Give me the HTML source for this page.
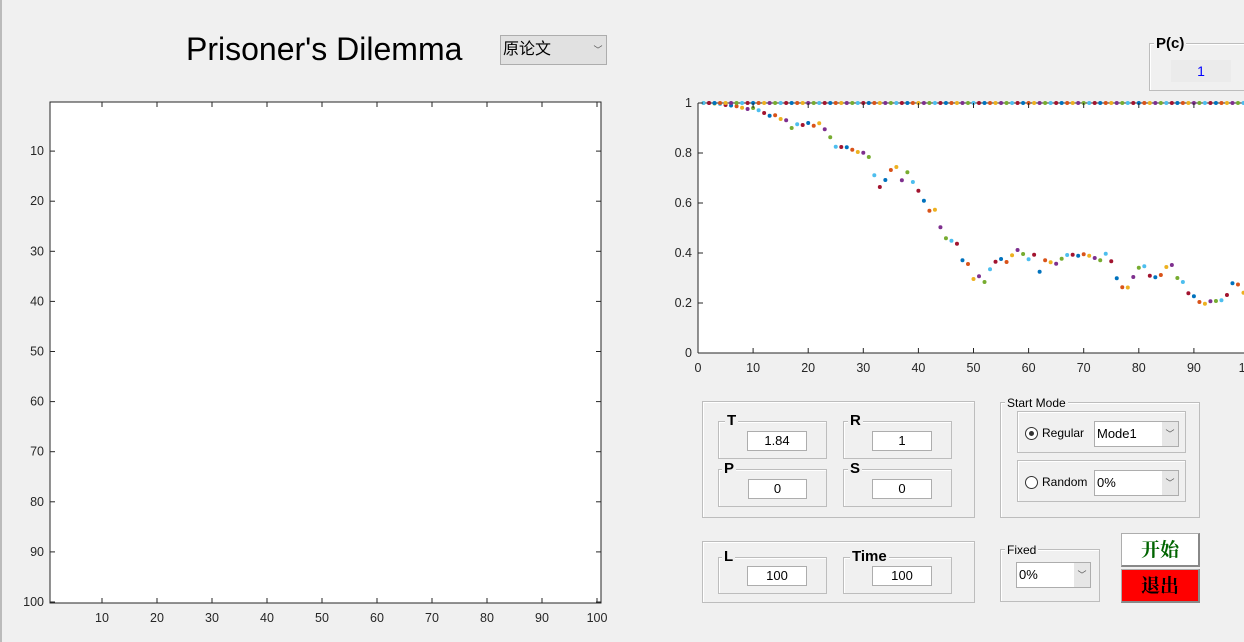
<!DOCTYPE html>
<html><head><meta charset="utf-8"><style>
body{margin:0;width:1244px;height:642px;background:#f0f0f0;position:relative;overflow:hidden;font-family:"Liberation Sans","Noto Sans CJK SC",sans-serif}
.abs{position:absolute;box-sizing:border-box}
.grp{position:absolute;box-sizing:border-box;border:1px solid #bdbdbd;box-shadow:inset 1px 1px 0 #fff}
.gt{position:absolute;background:#f0f0f0;font-weight:bold;font-size:15px;padding:0 2px;line-height:16px}
.edit{position:absolute;box-sizing:border-box;background:#fff;border:1px solid #adadad;font-size:13px;text-align:center;line-height:18px}
.dd{position:absolute;box-sizing:border-box;background:#fff;border:1px solid #adadad;font-size:13px;line-height:22px;padding-left:2px}
.dd .ar{position:absolute;right:0;top:0;bottom:0;width:16px;background:#e6e6e6;font-size:9px;text-align:center;color:#555}
</style></head><body>
<div class="abs" style="left:0;top:0;width:2px;height:642px;background:#bbb"></div>
<div class="abs" style="left:186px;top:31px;font-size:32px;line-height:36px">Prisoner's Dilemma</div>
<div class="dd" style="left:500px;top:35px;width:107px;height:30px;background:#e1e1e1;font-size:16px;line-height:28px">原论文<span class="ar" style="background:#e1e1e1;line-height:28px">﹀</span></div>

<svg class="abs" style="left:0;top:0" width="1244" height="642">
<g id="left"></g>
<g id="right"></g>
</svg>

<div class="grp" style="left:1149px;top:43px;width:110px;height:48px"></div>
<div class="gt" style="left:1154px;top:36px">P(c)</div>
<div class="abs" style="left:1171px;top:60px;width:60px;height:22px;background:#ebebeb;color:#00f;text-align:center;font-size:14px;line-height:22px">1</div>

<div class="grp" style="left:702px;top:401px;width:273px;height:117px"></div>
<div class="grp" style="left:718px;top:421px;width:109px;height:38px"></div><div class="gt" style="left:725px;top:413px">T</div>
<div class="edit" style="left:747px;top:431px;width:60px;height:20px">1.84</div>
<div class="grp" style="left:843px;top:421px;width:109px;height:38px"></div><div class="gt" style="left:848px;top:413px">R</div>
<div class="edit" style="left:872px;top:431px;width:60px;height:20px">1</div>
<div class="grp" style="left:718px;top:469px;width:109px;height:38px"></div><div class="gt" style="left:722px;top:461px">P</div>
<div class="edit" style="left:748px;top:479px;width:59px;height:20px">0</div>
<div class="grp" style="left:843px;top:469px;width:109px;height:38px"></div><div class="gt" style="left:848px;top:461px">S</div>
<div class="edit" style="left:872px;top:479px;width:60px;height:20px">0</div>

<div class="grp" style="left:702px;top:541px;width:273px;height:62px"></div>
<div class="grp" style="left:718px;top:557px;width:109px;height:37px"></div><div class="gt" style="left:722px;top:549px">L</div>
<div class="edit" style="left:747px;top:566px;width:60px;height:20px">100</div>
<div class="grp" style="left:843px;top:557px;width:109px;height:37px"></div><div class="gt" style="left:850px;top:549px">Time</div>
<div class="edit" style="left:872px;top:566px;width:60px;height:20px">100</div>

<div class="grp" style="left:1000px;top:402px;width:200px;height:116px"></div>
<div class="gt" style="left:1005px;top:395px;font-weight:normal;font-size:12px">Start Mode</div>
<div class="grp" style="left:1017px;top:411px;width:169px;height:42px"></div>
<div class="abs" style="left:1025px;top:427px;width:13px;height:13px;border:1px solid #333;border-radius:50%;background:#fff"><div style="position:absolute;left:3px;top:3px;width:5px;height:5px;border-radius:50%;background:#333"></div></div>
<div class="abs" style="left:1042px;top:426px;font-size:12px">Regular</div>
<div class="dd" style="left:1094px;top:421px;width:85px;height:26px;line-height:24px">Mode1<span class="ar" style="line-height:24px">﹀</span></div>
<div class="grp" style="left:1017px;top:460px;width:169px;height:42px"></div>
<div class="abs" style="left:1025px;top:476px;width:13px;height:13px;border:1px solid #333;border-radius:50%;background:#fff"></div>
<div class="abs" style="left:1042px;top:475px;font-size:12px">Random</div>
<div class="dd" style="left:1094px;top:470px;width:85px;height:26px;line-height:24px">0%<span class="ar" style="line-height:24px">﹀</span></div>

<div class="grp" style="left:1000px;top:549px;width:100px;height:53px"></div>
<div class="gt" style="left:1005px;top:542px;font-weight:normal;font-size:12px">Fixed</div>
<div class="dd" style="left:1016px;top:562px;width:75px;height:26px;line-height:24px">0%<span class="ar" style="line-height:24px">﹀</span></div>

<div class="abs" style="left:1121px;top:533px;width:79px;height:34px;background:#fff;border:1px solid #adadad;border-right:2px solid #888;border-bottom:2px solid #888;color:#006400;font-size:19px;font-weight:bold;text-align:center;line-height:30px;font-family:'Noto Serif CJK SC',serif">开始</div>
<div class="abs" style="left:1121px;top:569px;width:79px;height:34px;background:#f00;border:1px solid #adadad;border-right:2px solid #888;border-bottom:2px solid #888;color:#000;font-size:19px;font-weight:bold;text-align:center;line-height:30px;font-family:'Noto Serif CJK SC',serif">退出</div>

<script>
const NS='http://www.w3.org/2000/svg';
function mk(p,t,a){const e=document.createElementNS(NS,t);for(const k in a)e.setAttribute(k,a[k]);p.appendChild(e);return e;}
const latticeTicks=[10,20,30,40,50,60,70,80,90,100];
const L=document.getElementById('left');
const lx=v=>47+5.5*v, ly=v=>101+5.01*v;
let r=mk(L,'rect',{x:50,y:102,width:551,height:501,fill:'#fff',stroke:'#262626','stroke-width':1});

latticeTicks.forEach(v=>{
 let t=mk(L,'line',{x1:lx(v),x2:lx(v),y1:102,y2:107,stroke:'#262626'});
 
 mk(L,'line',{x1:lx(v),x2:lx(v),y1:603,y2:598,stroke:'#262626'});
 let tx=mk(L,'text',{x:lx(v),y:622,'text-anchor':'middle','font-size':12.5,fill:'#262626'});tx.textContent=v;
 
 mk(L,'line',{x1:50,x2:55,y1:ly(v),y2:ly(v),stroke:'#262626'});
 mk(L,'line',{x1:601,x2:596,y1:ly(v),y2:ly(v),stroke:'#262626'});
 let ty=mk(L,'text',{x:44,y:ly(v)+4,'text-anchor':'end','font-size':12.5,fill:'#262626'});ty.textContent=v;
 
});
const xTicks=[0,10,20,30,40,50,60,70,80,90,100];
const yTicks=[0,0.2,0.4,0.6,0.8,1];
const yTickLabels=['0','0.2','0.4','0.6','0.8','1'];
const pcSteps=[1,2,3,4,5,6,7,8,9,10,11,12,13,14,15,16,17,18,19,20,21,22,23,24,25,26,27,28,29,30,31,32,33,34,35,36,37,38,39,40,41,42,43,44,45,46,47,48,49,50,51,52,53,54,55,56,57,58,59,60,61,62,63,64,65,66,67,68,69,70,71,72,73,74,75,76,77,78,79,80,81,82,83,84,85,86,87,88,89,90,91,92,93,94,95,96,97,98,99];
const pcValues=[1,1,0.998,0.996,0.992,0.99,0.987,0.981,0.976,0.98,0.971,0.96,0.949,0.951,0.936,0.931,0.90,0.915,0.912,0.92,0.909,0.919,0.895,0.863,0.825,0.824,0.823,0.813,0.804,0.801,0.784,0.711,0.664,0.692,0.732,0.744,0.691,0.723,0.684,0.649,0.609,0.569,0.573,0.503,0.459,0.449,0.437,0.371,0.356,0.296,0.307,0.284,0.335,0.365,0.376,0.364,0.391,0.412,0.396,0.375,0.393,0.325,0.371,0.363,0.357,0.377,0.392,0.393,0.389,0.395,0.389,0.38,0.371,0.397,0.367,0.299,0.263,0.262,0.304,0.341,0.347,0.309,0.303,0.312,0.344,0.352,0.30,0.284,0.239,0.227,0.204,0.197,0.207,0.208,0.211,0.232,0.279,0.274,0.241];
const refValues=pcSteps.map(()=>1);
const colors=['#0072BD','#D95319','#EDB120','#7E2F8E','#77AC30','#4DBEEE','#A2142F'];
const R=document.getElementById('right');
const rx=v=>698+5.51*v, ry=v=>353-250*v;
let ra=mk(R,'rect',{x:698,y:103,width:560,height:250,fill:'#fff'});

function dot(x,y,i,name){
 let c=mk(R,'circle',{cx:rx(x),cy:ry(y),r:2,fill:colors[((i-6)%7+7)%7]});
 
}
pcSteps.forEach((s,i)=>dot(s,pcValues[i],s,'pc-point'));
mk(R,'line',{x1:698,x2:1244,y1:103,y2:103,stroke:'#262626'});
mk(R,'line',{x1:698,x2:1244,y1:353,y2:353,stroke:'#262626'});
mk(R,'line',{x1:698,x2:698,y1:103,y2:353,stroke:'#262626'});
pcSteps.forEach((s,i)=>dot(s,refValues[i],s+3,'ref-point'));
xTicks.forEach(v=>{
 mk(R,'line',{x1:rx(v),x2:rx(v),y1:353,y2:348,stroke:'#262626'});
 mk(R,'line',{x1:rx(v),x2:rx(v),y1:103,y2:108,stroke:'#262626'});
 let t=mk(R,'text',{x:rx(v),y:372,'text-anchor':'middle','font-size':12.5,fill:'#262626'});t.textContent=v;
 
});
yTicks.forEach((v,i)=>{
 mk(R,'line',{x1:698,x2:703,y1:ry(v),y2:ry(v),stroke:'#262626'});
 let t=mk(R,'text',{x:692,y:ry(v)+4,'text-anchor':'end','font-size':12.5,fill:'#262626'});t.textContent=yTickLabels[i];
 
});
</script>
</body></html>
